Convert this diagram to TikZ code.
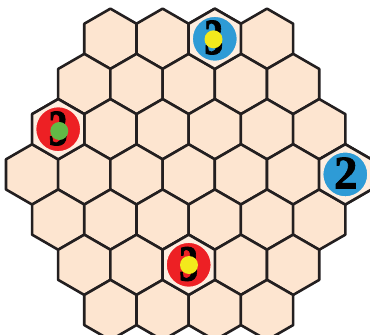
\documentclass[tikz,border=0pt]{standalone}
\usepackage{fontspec}
\newfontfamily\digitfont{Liberation Serif Bold}[FakeBold=1.6]
\usetikzlibrary{calc}
\definecolor{peach}{RGB}{253,229,208}
\definecolor{peachlight}{RGB}{254,238,224}
\definecolor{edgec}{RGB}{35,31,32}
\definecolor{tokblue}{RGB}{46,155,214}
\definecolor{tokred}{RGB}{237,32,36}
\definecolor{tokyellow}{RGB}{243,233,28}
\definecolor{tokgreen}{RGB}{98,185,70}
\tikzset{
  hexcell/.style={fill=peach, draw=edgec, line width=2.6pt, line join=round},
  tokendisc/.style={circle, minimum size=45pt, inner sep=0pt, draw=peachlight, line width=1.2pt},
  digit/.style={font=\digitfont\fontsize{47}{47}\selectfont, text=black, inner sep=0pt},
  dot/.style={circle, minimum size=18pt, inner sep=0pt},
}
\begin{document}
\begin{tikzpicture}[x=1pt,y=-1pt]
\useasboundingbox (0,0) rectangle (370,335);
\clip (0,0) rectangle (370,335);
\def\R{30.15}
\def\W{52.2}
\foreach \r/\n in {0/4,1/5,2/6,3/7,4/6,5/5,6/4}{
  \pgfmathsetmacro{\xs}{188.7-(\n-1)/2*\W}
  \pgfmathsetmacro{\cy}{38.8+\r*45.2}
  \pgfmathtruncatemacro{\last}{\n-1}
  \foreach \i in {0,...,\last}{
    \pgfmathsetmacro{\cx}{\xs+\i*\W}
    \draw[hexcell] (\cx,\cy) +(90:\R) -- +(30:\R) -- +(-30:\R) -- +(-90:\R) -- +(-150:\R) -- +(150:\R) -- cycle;
  }
}
% token hexes, lighter interior
\foreach \cx/\cy in {214.8/38.8, 58.2/129.2, 345.3/174.4, 188.7/264.8}{
  \draw[hexcell, fill=peachlight] (\cx,\cy) +(90:\R) -- +(30:\R) -- +(-30:\R) -- +(-90:\R) -- +(-150:\R) -- +(150:\R) -- cycle;
}
% tokens
\node[tokendisc, fill=tokblue] (t1) at (214.8,38.8) {};
\node[digit, xscale=0.8, yscale=1.08] (d1) at (213.8,37.5) {3};
\node[dot, fill=tokyellow] (p1) at (213.5,39.3) {};

\node[tokendisc, fill=tokred] (t2) at (58.2,129.2) {};
\node[digit, xscale=0.8, yscale=1.08] (d2) at (58.2,128.5) {3};
\node[dot, fill=tokgreen] (p2) at (59.3,131) {};

\node[tokendisc, fill=tokblue] (t3) at (345.3,174.4) {};
\node[digit] (d3) at (345.8,173) {2};

\node[tokendisc, fill=tokred] (t4) at (188.7,264.8) {};
\node[digit, xscale=0.8, yscale=1.08] (d4) at (188.7,264) {3};
\node[dot, fill=tokyellow] (p4) at (189,265) {};
\end{tikzpicture}
\end{document}
